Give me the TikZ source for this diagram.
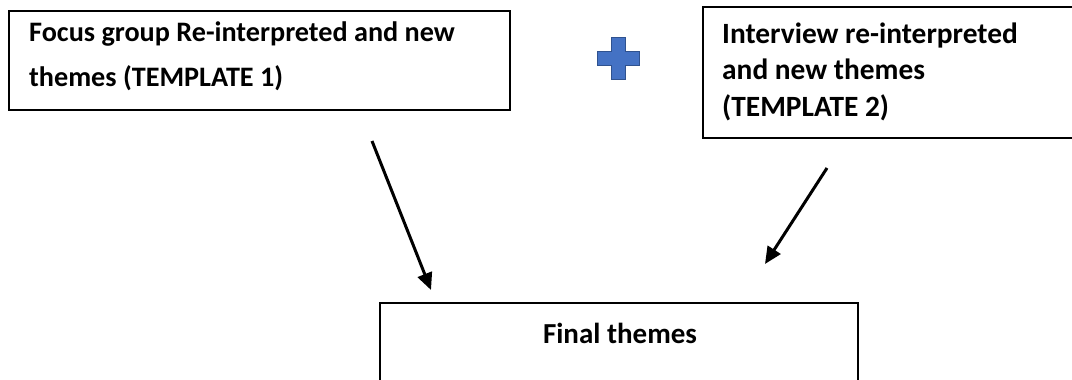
\documentclass[tikz,border=0pt]{standalone}
\usepackage{fontspec}
\setmainfont{Carlito}
\usetikzlibrary{arrows.meta}
\definecolor{plusfill}{HTML}{4472C4}
\definecolor{plusedge}{HTML}{2F528F}
\begin{document}
\begin{tikzpicture}[x=1pt,y=-1pt,
  panel/.style={draw=black, line width=1.4pt, inner sep=0pt, outer sep=0pt, anchor=north west},
  boxtext/.style={align=left, inner sep=0pt, anchor=north west},
  flow/.style={line width=3pt, -{Triangle[length=17pt,width=15pt]}},
]
\useasboundingbox[fill=white] (0,0) rectangle (1072,380);

% source and result panels
\node[panel, minimum width=501pt, minimum height=99pt] (focus) at (9,11) {};
\node[panel, minimum width=380pt, minimum height=131pt] (interview) at (703,7) {};
\node[panel, minimum width=478pt, minimum height=120pt] (final) at (380,303) {};

\node[boxtext, font=\fontsize{28.2}{45.5}\selectfont\bfseries] (focustext) at (29,21.5)
  {Focus group Re-interpreted and new\\themes (TEMPLATE 1)};
\node[boxtext, font=\fontsize{29.4}{36.5}\selectfont\bfseries] (interviewtext) at (722,22.5)
  {Interview re-interpreted\\and new themes\\(TEMPLATE 2)};
\node[font=\fontsize{29}{34}\selectfont\bfseries, inner sep=0pt, anchor=base] (finaltext) at (620,343) {Final themes};

% plus sign between the two sources
\filldraw[fill=plusfill, draw=plusedge, line width=1.5pt]
  (611.5,37.5) -- (625.5,37.5) -- (625.5,51.5) -- (639.5,51.5) -- (639.5,65.5)
  -- (625.5,65.5) -- (625.5,79.5) -- (611.5,79.5) -- (611.5,65.5) -- (597.5,65.5)
  -- (597.5,51.5) -- (611.5,51.5) -- cycle;

% connectors
\coordinate (f1) at (372,141);
\coordinate (f2) at (431,290);
\coordinate (i1) at (827,168);
\coordinate (i2) at (765,264);
\draw[flow] (f1) -- (f2);
\draw[flow] (i1) -- (i2);
\end{tikzpicture}
\end{document}
